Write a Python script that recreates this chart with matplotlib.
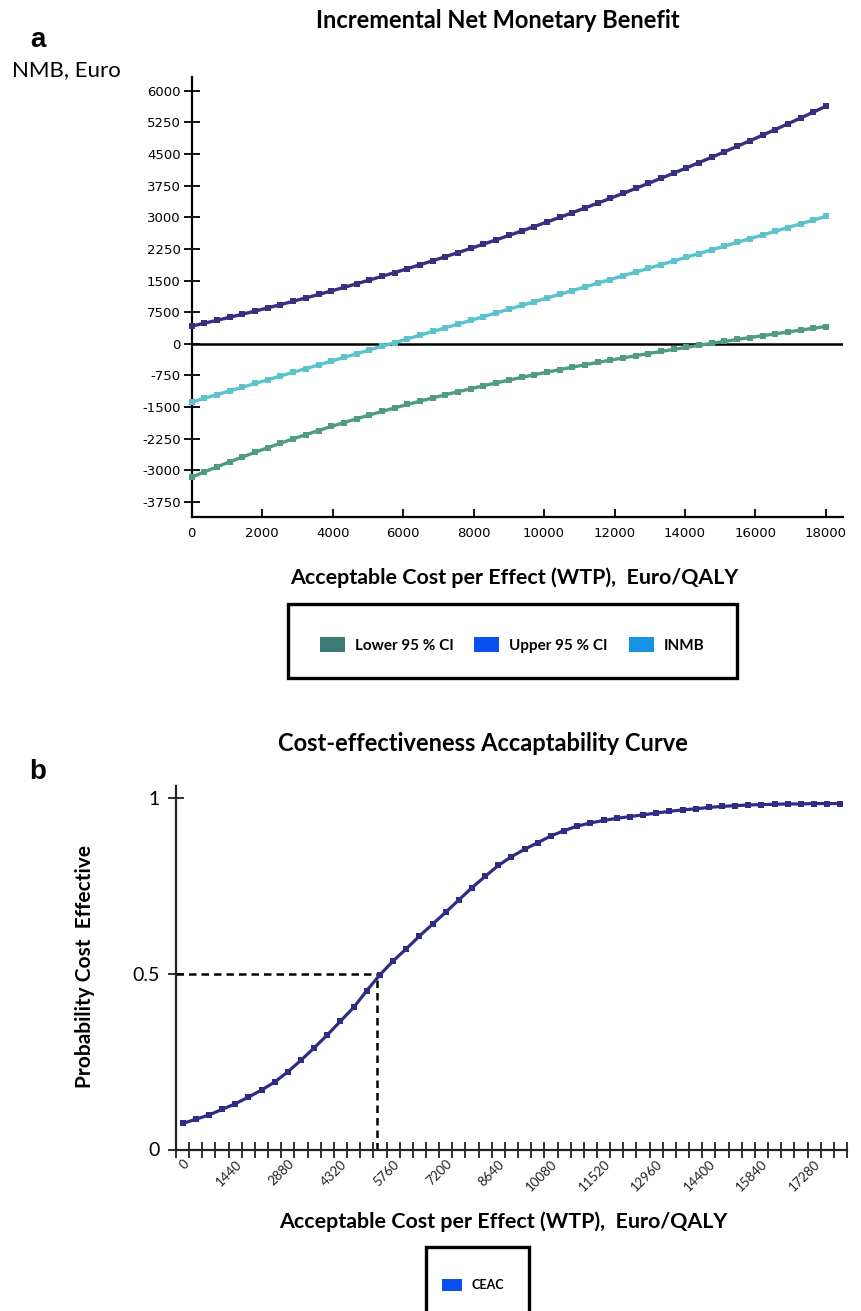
import matplotlib
matplotlib.use("Agg")
import matplotlib.pyplot as plt
from matplotlib.patches import Patch, Rectangle

# ---------------- data ----------------
wtp = [0, 360, 720, 1080, 1440, 1800, 2160, 2520, 2880, 3240, 3600, 3960, 4320,
       4680, 5040, 5400, 5760, 6120, 6480, 6840, 7200, 7560, 7920, 8280, 8640,
       9000, 9360, 9720, 10080, 10440, 10800, 11160, 11520, 11880, 12240, 12600,
       12960, 13320, 13680, 14040, 14400, 14760, 15120, 15480, 15840, 16200,
       16560, 16920, 17280, 17640, 18000]

upper_ci = [420, 488, 558, 629, 702, 776, 852, 929, 1008, 1088, 1169, 1252, 1337,
            1423, 1510, 1599, 1689, 1781, 1874, 1969, 2065, 2163, 2262, 2362, 2464,
            2568, 2673, 2779, 2887, 2996, 3107, 3220, 3333, 3449, 3565, 3683, 3803,
            3924, 4046, 4170, 4296, 4423, 4551, 4681, 4812, 4945, 5079, 5215, 5352,
            5491, 5631]

inmb = [-1380, -1292, -1204, -1116, -1028, -940, -852, -764, -676, -588, -500,
        -412, -324, -236, -148, -60, 28, 116, 204, 292, 380, 468, 556, 644, 732,
        820, 908, 996, 1084, 1172, 1260, 1348, 1436, 1524, 1612, 1700, 1788, 1876,
        1964, 2052, 2140, 2228, 2316, 2404, 2492, 2580, 2668, 2756, 2844, 2932, 3020]

lower_ci = [-3160, -3036, -2916, -2798, -2684, -2572, -2463, -2357, -2254, -2154,
            -2056, -1960, -1868, -1777, -1689, -1604, -1520, -1439, -1360, -1283,
            -1208, -1135, -1064, -994, -927, -861, -797, -734, -673, -613, -555,
            -498, -442, -388, -335, -283, -231, -181, -132, -84, -36, 11, 57, 102,
            148, 192, 236, 280, 323, 367, 410]

ceac = [0.074, 0.086, 0.098, 0.114, 0.130, 0.149, 0.169, 0.192, 0.221, 0.254,
        0.289, 0.326, 0.365, 0.404, 0.452, 0.497, 0.536, 0.571, 0.607, 0.641,
        0.675, 0.710, 0.745, 0.777, 0.808, 0.833, 0.854, 0.873, 0.892, 0.907,
        0.920, 0.929, 0.936, 0.942, 0.947, 0.952, 0.957, 0.962, 0.966, 0.969,
        0.973, 0.976, 0.978, 0.980, 0.981, 0.982, 0.983, 0.983, 0.984, 0.984,
        0.984]

xticks_a = [0, 2000, 4000, 6000, 8000, 10000, 12000, 14000, 16000, 18000]
yticks_a = [6000, 5250, 4500, 3750, 3000, 2250, 1500, 750, 0, -750, -1500,
            -2250, -3000, -3750]
ytick_labels_a = ["6000", "5250", "4500", "3750", "3000", "2250", "1500", "7500",
                  "0", "-750", "-1500", "-2250", "-3000", "-3750"]
legend_a_labels = ["Lower 95 % CI", "Upper 95 % CI", "INMB"]
legend_a_colors = ["#3d7b74", "#0a4ff0", "#1893e4"]

ceac_label_every = 4
threshold_wtp = 5320
threshold_p = 0.5
yticks_b = [0, 0.5, 1]
ytick_labels_b = ["0", "0.5", "1"]

# ---------------- styles ----------------
c_upper = "#37307f"
c_inmb = "#5cc3cd"
c_lower = "#4f9d7e"
c_ceac = "#302c86"

W, H = 862, 1311
def fx(px):
    return px / W
def fy(py):
    return 1 - py / H

fig = plt.figure(figsize=(W / 100, H / 100), dpi=100)
fig.patch.set_facecolor("white")

TF = "Lato"

# ---------------- panel a ----------------
axA = fig.add_axes([fx(191.7), fy(517), fx(843) - fx(191.7), fy(76.7) - fy(517)])
for ser, col in [(lower_ci, c_lower), (inmb, c_inmb), (upper_ci, c_upper)]:
    axA.plot(wtp, ser, color=col, lw=2.4, marker="s", ms=4.8, mew=0,
             zorder=3, clip_on=False)
axA.axhline(0, color="black", lw=1.8, zorder=2)
axA.set_xlim(0, 18484)
axA.set_ylim(-4106, 6332)
for s in ["top", "right"]:
    axA.spines[s].set_visible(False)
for s in ["left", "bottom"]:
    axA.spines[s].set_linewidth(1.6)
axA.set_xticks(xticks_a)
axA.set_xticklabels([str(v) for v in xticks_a])
axA.set_yticks(yticks_a)
axA.set_yticklabels(ytick_labels_a)
axA.tick_params(axis="y", direction="inout", length=12, width=1.3,
                labelsize=9.5, pad=2)
axA.tick_params(axis="x", direction="in", length=6, width=1.3,
                labelsize=9.5, pad=7)

fig.text(fx(498), fy(20), "Incremental Net Monetary Benefit", ha="center",
         va="center", fontsize=17, family=TF, weight="bold")
fig.text(fx(38), fy(40), "a", ha="center", va="center", fontsize=20,
         family="Liberation Sans", weight="bold")
fig.text(fx(12), fy(70), "NMB, Euro", ha="left", va="center", fontsize=16,
         family=TF)
fig.text(fx(514), fy(578), "Acceptable Cost per Effect (WTP),  Euro/QALY",
         ha="center", va="center", fontsize=15.4, family=TF, weight="bold")

fig.add_artist(Rectangle((fx(288), fy(678)), fx(737) - fx(288), fy(604) - fy(678),
                         transform=fig.transFigure, fill=False, lw=2.4,
                         ec="black"))
handles_a = [Patch(facecolor=c, edgecolor="none") for c in legend_a_colors]
fig.legend(handles_a, legend_a_labels, loc="center",
           bbox_to_anchor=(fx(512), fy(645)), ncol=3, frameon=False,
           prop={"family": TF, "weight": "bold", "size": 11},
           handlelength=1.65, handleheight=1.15, handletextpad=0.65,
           columnspacing=1.35)

# ---------------- panel b ----------------
axB = fig.add_axes([fx(176), fy(1149.5), fx(847) - fx(176), fy(786) - fy(1149.5)])
idx = list(range(len(wtp)))
axB.plot(idx, ceac, color=c_ceac, lw=2.3, marker="s", ms=4.4, mew=0,
         zorder=3, clip_on=False)
thr_idx = threshold_wtp / (wtp[1] - wtp[0])
axB.plot([thr_idx, thr_idx], [0, threshold_p], color="black", lw=1.8,
         linestyle=(0, (3, 2)), zorder=2)
axB.plot([-0.5, thr_idx], [threshold_p, threshold_p], color="black", lw=1.8,
         linestyle=(0, (3, 2)), zorder=2)
axB.set_xlim(-0.5, len(wtp) - 0.5)
axB.set_ylim(0, 1.034)
for s in ["top", "right"]:
    axB.spines[s].set_visible(False)
for s in ["left", "bottom"]:
    axB.spines[s].set_linewidth(1.6)
    axB.spines[s].set_color("#222222")
axB.set_xticks([i - 0.5 for i in range(len(wtp) + 1)])
axB.set_xticklabels([])
lab_idx = idx[::ceac_label_every][:13]
axB.set_xticks(lab_idx, minor=True)
axB.set_xticklabels([str(wtp[i]) for i in lab_idx], minor=True, rotation=45,
                    ha="right", va="top", rotation_mode="anchor",
                    family=TF, fontsize=9.5, color="#222222")
axB.tick_params(axis="x", which="major", direction="inout", length=12,
                width=1.3, color="#222222")
axB.tick_params(axis="x", which="minor", length=0, pad=6)
axB.set_yticks(yticks_b)
axB.set_yticklabels(ytick_labels_b, family=TF, fontsize=14)
axB.tick_params(axis="y", direction="inout", length=12, width=1.3,
                color="#222222", pad=6)

fig.text(fx(483), fy(744), "Cost-effectiveness Accaptability Curve",
         ha="center", va="center", fontsize=17, family=TF, weight="bold")
fig.text(fx(38), fy(772), "b", ha="center", va="center", fontsize=20,
         family="Liberation Sans", weight="bold")
fig.text(fx(85), fy(967), "Probability Cost  Effective", rotation=90,
         ha="center", va="center", fontsize=15, family=TF, weight="bold")
fig.text(fx(503), fy(1222), "Acceptable Cost per Effect (WTP),  Euro/QALY",
         ha="center", va="center", fontsize=15.4, family=TF, weight="bold")

fig.add_artist(Rectangle((fx(426), fy(1330)), fx(529) - fx(426), fy(1247) - fy(1330),
                         transform=fig.transFigure, fill=False, lw=2.4,
                         ec="black"))
fig.legend([Patch(facecolor="#0a4ff0", edgecolor="none")], ["CEAC"],
           loc="center", bbox_to_anchor=(fx(473), fy(1285)), frameon=False,
           prop={"family": TF, "weight": "bold", "size": 9},
           handlelength=1.6, handleheight=1.1, handletextpad=0.8)

fig.savefig("out.png", dpi=100, facecolor="white")
